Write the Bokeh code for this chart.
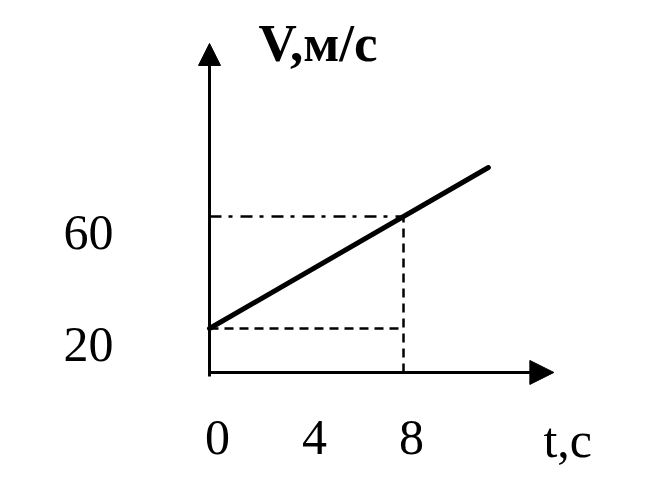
from bokeh.plotting import figure
from bokeh.models import Arrow, NormalHead, Label
from bokeh.core.properties import value
from bokeh.embed import file_html
from bokeh.resources import INLINE

# ---- data ----
line_t = [0, 11.5]          # time, s
line_v = [20, 77.5]         # speed, m/s
t_mark = 8                  # time of the marked point
v_marks = [20, 60]          # marked speeds
x_tick_values = [0, 4, 8]
x_tick_labels = ["0", "4", "8"]
y_tick_values = [20, 60]
y_tick_labels = ["20", "60"]
x_title = "t,с"
y_title = "V,м/с"

# ---- layout constants ----
X_AXIS_V = 4.3      # where the t axis crosses the V axis
Y_AXIS_BOTTOM = 2.9
Y_AXIS_TOP = 121.8
X_AXIS_END = 14.2
FONT = "Liberation Serif"

p = figure(width=656, height=470, x_range=(-8.619, 18.433), y_range=(-30.71, 137.14),
           output_backend="svg", toolbar_location=None, min_border=0,
           x_axis_location=None, y_axis_location=None)
p.grid.visible = False
p.outline_line_color = None
p.background_fill_color = "white"
p.border_fill_color = "white"

# axes with arrow heads
p.add_layout(Arrow(end=NormalHead(size=24, fill_color="black", line_color="black", line_width=1),
                   x_start=0, y_start=X_AXIS_V, x_end=X_AXIS_END, y_end=X_AXIS_V,
                   line_width=3, line_color="black"))
p.add_layout(Arrow(end=NormalHead(size=22, fill_color="black", line_color="black", line_width=1),
                   x_start=0, y_start=Y_AXIS_BOTTOM, x_end=0, y_end=Y_AXIS_TOP,
                   line_width=3, line_color="black"))

# guide lines
p.line([0, t_mark], [v_marks[0], v_marks[0]], line_dash="9 6", line_width=2.5, line_color="black")
p.line([0, t_mark], [v_marks[1], v_marks[1]], line_dash="12 7 4 8", line_width=2.5, line_color="black")
p.line([t_mark, t_mark], [X_AXIS_V, v_marks[1]], line_dash="9 6", line_width=2.5, line_color="black")

# main graph
p.line(line_t, line_v, line_width=5, line_color="black", line_cap="round")

# tick labels
p.text(x=[0] * len(y_tick_values), y=y_tick_values, text=y_tick_labels,
       text_align="right", text_baseline="alphabetic", x_offset=-96, y_offset=16,
       text_font=value(FONT), text_font_size="50px", text_color="black")
p.text(x=x_tick_values, y=[X_AXIS_V] * len(x_tick_values), text=x_tick_labels,
       text_align="center", text_baseline="alphabetic", x_offset=8, y_offset=65,
       text_font=value(FONT), text_font_size="50px", text_color="black")

# axis titles
p.add_layout(Label(x=2.02, y=122.1, text=y_title, text_font=FONT, text_font_size="53px",
                   text_font_style="bold", text_align="left", text_baseline="alphabetic",
                   text_color="black"))
p.add_layout(Label(x=13.77, y=-19.64, text=x_title, text_font=FONT, text_font_size="50px",
                   text_align="left", text_baseline="alphabetic", text_color="black"))

open("out.html", "w").write(file_html(p, INLINE))
